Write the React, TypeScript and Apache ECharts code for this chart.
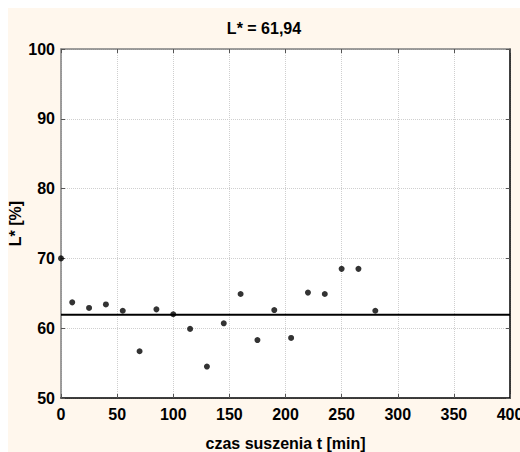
import React, { useEffect, useRef } from "react";
import * as echarts from "echarts";

const times = [0, 10, 25, 40, 55, 70, 85, 100, 115, 130, 145, 160, 175, 190, 205, 220, 235, 250, 265, 280];
const lValues = [70.0, 63.7, 62.9, 63.4, 62.5, 56.7, 62.7, 62.0, 59.9, 54.5, 60.7, 64.9, 58.3, 62.6, 58.6, 65.1, 64.9, 68.5, 68.5, 62.5];
const meanL = 61.94;
const meanRange = [0, 400];
const titleText = "L* = 61,94";
const xName = "czas suszenia t [min]";
const yName = "L* [%]";

const FONT = "'Liberation Sans', Arial, sans-serif";

export default function App() {
  const ref = useRef<HTMLDivElement>(null);
  useEffect(() => {
    if (!ref.current) return;
    const chart = echarts.init(ref.current, undefined, { renderer: "svg" });
    const labelStyle = { color: "#000", fontFamily: FONT, fontWeight: "bold" as const, fontSize: 16 };
    chart.setOption({
      animation: false,
      backgroundColor: "#fff7ed",
      title: {
        text: titleText,
        left: "center",
        top: 12,
        padding: 0,
        textStyle: { ...labelStyle },
      },
      grid: {
        left: 53,
        right: 10,
        top: 41,
        bottom: 54,
        show: true,
        backgroundColor: "#ffffff",
        borderWidth: 0,
        containLabel: false,
        outerBoundsMode: "none",
      },
      xAxis: [
        {
          type: "value",
          min: 0,
          max: 400,
          interval: 50,
          position: "bottom",
          name: xName,
          nameLocation: "middle",
          nameGap: 37,
          nameMoveOverlap: false,
          nameTextStyle: { ...labelStyle },
          axisLine: { show: true, onZero: false, lineStyle: { color: "#000", width: 1.5 } },
          axisTick: { show: true, inside: true, length: 4, lineStyle: { color: "#555" } },
          axisLabel: { ...labelStyle, margin: 8 },
          splitLine: { show: true, lineStyle: { color: "#cfcfcf", type: "dotted", width: 1 } },
        },
        {
          type: "value",
          min: 0,
          max: 400,
          interval: 50,
          position: "top",
          axisLine: { show: true, onZero: false, lineStyle: { color: "#808080", width: 1.5 } },
          axisTick: { show: true, inside: true, length: 4, lineStyle: { color: "#555" } },
          axisLabel: { show: false },
          splitLine: { show: false },
        },
      ],
      yAxis: [
        {
          type: "value",
          min: 50,
          max: 100,
          interval: 10,
          position: "left",
          name: yName,
          nameLocation: "middle",
          nameGap: 38,
          nameMoveOverlap: false,
          nameTextStyle: { ...labelStyle },
          axisLine: { show: true, onZero: false, lineStyle: { color: "#808080", width: 1.5 } },
          axisTick: { show: true, inside: true, length: 4, lineStyle: { color: "#555" } },
          axisLabel: { ...labelStyle, margin: 6 },
          splitLine: { show: true, lineStyle: { color: "#cfcfcf", type: "dotted", width: 1 } },
        },
        {
          type: "value",
          min: 50,
          max: 100,
          interval: 10,
          position: "right",
          axisLine: { show: true, onZero: false, lineStyle: { color: "#000", width: 1.5 } },
          axisTick: { show: true, inside: true, length: 4, lineStyle: { color: "#555" } },
          axisLabel: { show: false },
          splitLine: { show: false },
        },
      ],
      series: [
        {
          type: "line",
          data: meanRange.map((t) => [t, meanL]),
          showSymbol: false,
          symbol: "none",
          lineStyle: { color: "#000", width: 2 },
          silent: true,
          z: 2,
        },
        {
          type: "scatter",
          data: times.map((t, i) => [t, lValues[i]]),
          symbol: "circle",
          symbolSize: 6,
          itemStyle: { color: "#000" },
          clip: true,
          z: 3,
        },
      ],
    });
    return () => chart.dispose();
  }, []);
  return (
    <div
      ref={ref}
      style={{ position: "fixed", left: 8, top: 8, width: 512, height: 444 }}
    />
  );
}
